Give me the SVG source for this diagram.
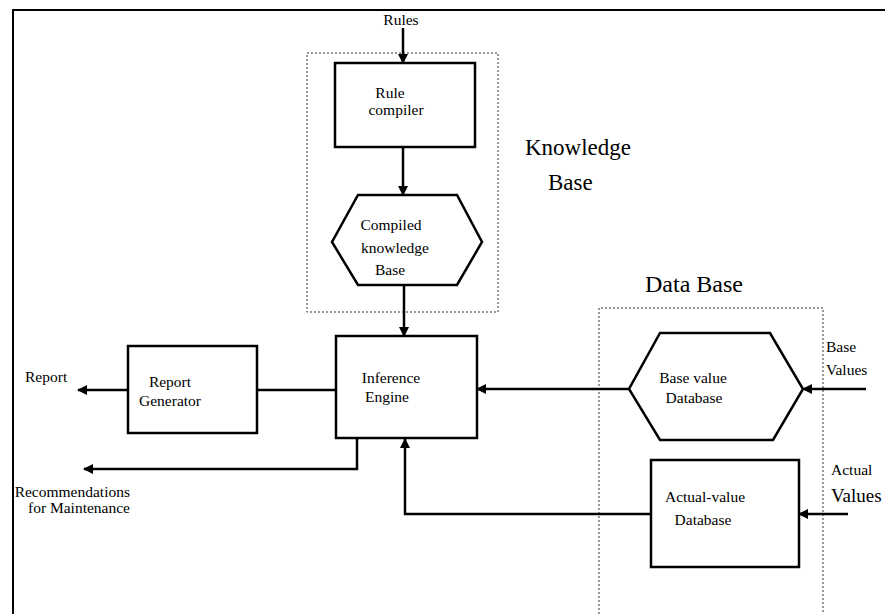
<svg xmlns="http://www.w3.org/2000/svg" width="885" height="614" viewBox="0 0 885 614">
<defs>
<marker id="ah" markerWidth="10" markerHeight="10" refX="9" refY="5" orient="auto" markerUnits="userSpaceOnUse">
<path d="M0,0 L10,5 L0,10 Z" fill="#000"/>
</marker>
<style>
.t{font-family:"Liberation Serif","Times New Roman",serif;font-size:15.5px;fill:#000}
.tl{font-family:"Liberation Serif","Times New Roman",serif;font-size:23px;fill:#000}
.b{fill:#fff;stroke:#000;stroke-width:2.5}
.c{fill:none;stroke:#000;stroke-width:2.5}
.d{fill:none;stroke:#333;stroke-width:1;stroke-dasharray:2,2}
</style>
</defs>
<rect width="885" height="614" fill="#fff"/>
<path d="M13,614 L13,10 L885,10" fill="none" stroke="#000" stroke-width="2"/>
<g id="kb-group">
<rect class="d" x="307" y="53" width="191" height="259"/>
<text class="tl" x="525" y="155">Knowledge</text>
<text class="tl" x="548" y="190">Base</text>
</g>
<g id="db-group">
<path class="d" d="M599,614 L599,308 L823,308 L823,614"/>
<text class="tl" x="645" y="292" style="font-size:24px">Data Base</text>
</g>
<g id="connectors">
<line class="c" x1="403" y1="28" x2="403" y2="63" marker-end="url(#ah)"/>
<line class="c" x1="403" y1="147" x2="403" y2="195" marker-end="url(#ah)"/>
<line class="c" x1="404" y1="285" x2="404" y2="336" marker-end="url(#ah)"/>
<line class="c" x1="629" y1="389" x2="477" y2="389" marker-end="url(#ah)"/>
<line class="c" x1="866" y1="389" x2="803" y2="389" marker-end="url(#ah)"/>
<line class="c" x1="848" y1="514" x2="799" y2="514" marker-end="url(#ah)"/>
<path class="c" d="M651,514 L405,514 L405,439" marker-end="url(#ah)"/>
<line class="c" x1="336" y1="390" x2="257" y2="390"/>
<line class="c" x1="128" y1="390" x2="78" y2="390" marker-end="url(#ah)"/>
<path class="c" d="M357,438 L357,469 L84,469" marker-end="url(#ah)"/>
</g>
<g id="rules-label"><text class="t" x="401" y="25" text-anchor="middle">Rules</text></g>
<g id="rule-compiler">
<rect class="b" x="335" y="63" width="140" height="84"/>
<text class="t" x="390" y="98" text-anchor="middle">Rule</text>
<text class="t" x="396" y="115" text-anchor="middle">compiler</text>
</g>
<g id="compiled-kb">
<polygon class="b" points="358,195 457,195 482,242 457,285 358,285 332,242"/>
<text class="t" x="391" y="230" text-anchor="middle">Compiled</text>
<text class="t" x="395" y="253" text-anchor="middle">knowledge</text>
<text class="t" x="390" y="275" text-anchor="middle">Base</text>
</g>
<g id="inference-engine">
<rect class="b" x="336" y="336" width="141" height="102"/>
<text class="t" x="391" y="383" text-anchor="middle">Inference</text>
<text class="t" x="387" y="402" text-anchor="middle">Engine</text>
</g>
<g id="report-generator">
<rect class="b" x="128" y="346" width="129" height="87"/>
<text class="t" x="170" y="387" text-anchor="middle">Report</text>
<text class="t" x="170" y="406" text-anchor="middle">Generator</text>
</g>
<g id="report-label"><text class="t" x="25" y="382">Report</text></g>
<g id="recommendations-label">
<text class="t" x="130" y="497" text-anchor="end">Recommendations</text>
<text class="t" x="130" y="513" text-anchor="end">for Maintenance</text>
</g>
<g id="base-value-db">
<polygon class="b" points="660,333 770,333 803,389 773,440 660,440 629,389"/>
<text class="t" x="693" y="383" text-anchor="middle">Base value</text>
<text class="t" x="694" y="403" text-anchor="middle">Database</text>
</g>
<g id="actual-value-db">
<rect class="b" x="651" y="460" width="148" height="107"/>
<text class="t" x="705" y="502" text-anchor="middle">Actual-value</text>
<text class="t" x="703" y="525" text-anchor="middle">Database</text>
</g>
<g id="base-values-label">
<text class="t" x="826" y="352">Base</text>
<text class="t" x="826" y="375">Values</text>
</g>
<g id="actual-values-label">
<text class="t" x="831" y="475">Actual</text>
<text class="t" x="831" y="502" style="font-size:19px">Values</text>
</g>
</svg>
